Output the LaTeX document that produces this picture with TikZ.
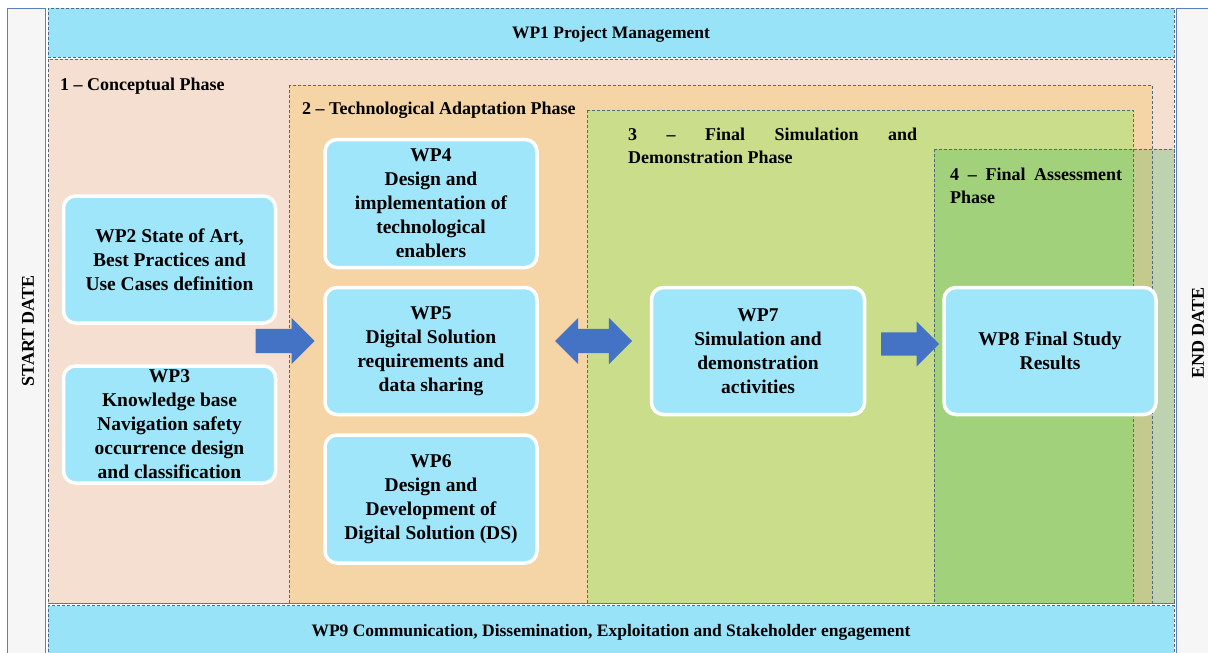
\documentclass[tikz,border=0pt]{standalone}
\usepackage{fontspec}
\setmainfont{Liberation Serif}
\usetikzlibrary{shapes.arrows}
\definecolor{wpcyan}{HTML}{9FE6FB}
\definecolor{bandcyan}{HTML}{99E3F9}
\definecolor{phaseone}{HTML}{F5DFD1}
\definecolor{phasetwo}{HTML}{F5D4A6}
\definecolor{phasethree}{HTML}{C9DD8B}
\definecolor{phasefour}{HTML}{A1D27B}
\definecolor{phasefourmid}{HTML}{C4CA8E}
\definecolor{phasefouredge}{HTML}{BFD2AF}
\definecolor{dashgray}{HTML}{56687A}
\definecolor{sidegray}{HTML}{F6F6F6}
\definecolor{sideblue}{HTML}{5B7FC0}
\definecolor{arrowblue}{HTML}{4472C4}
\begin{document}
\begin{tikzpicture}[x=1pt,y=-1pt,
  phaseline/.style={draw=dashgray,line width=0.8pt,dash pattern=on 3pt off 2pt},
  band/.style={fill=bandcyan,phaseline,minimum width=1126pt,inner sep=0pt,
    text height=12.5pt,text depth=0pt,
    font=\fontsize{17.5}{21}\selectfont\bfseries},
  wpbox/.style={fill=wpcyan,draw=white,line width=3.5pt,rounded corners=12pt,
    minimum width=212pt,align=center,inner sep=0pt,
    font=\fontsize{19.5}{24}\selectfont\bfseries},
  phaselabel/.style={anchor=base west,inner sep=0pt,align=left,
    font=\fontsize{18}{22.5}\selectfont\bfseries},
  sidelabel/.style={rotate=90,inner sep=0pt,font=\fontsize{18}{20}\selectfont\bfseries},
  blockarrow/.style={single arrow,fill=arrowblue,draw=none,inner xsep=0pt,inner ysep=12pt,
    single arrow head extend=11pt,single arrow tip angle=90,anchor=tip},
  twowayarrow/.style={double arrow,fill=arrowblue,draw=none,inner xsep=0pt,inner ysep=12pt,
    double arrow head extend=11pt,double arrow tip angle=90}
]
\useasboundingbox (0,0) rectangle (1208,653);
\clip (0,0) rectangle (1208,653);

% start / end date columns
\filldraw[fill=sidegray,draw=sideblue,line width=1pt] (7,8) rectangle (45,680);
\filldraw[fill=sidegray,draw=sideblue,line width=1pt] (1176,8) rectangle (1230,680);
\node[sidelabel] (start) at (28,331) {START DATE};
\node[sidelabel] (end) at (1198,333) {END DATE};

% phase areas
\fill[phaseone] (48,59) rectangle (1174,603);
\fill[phasetwo] (289,85) rectangle (1152,603);
\fill[phasethree] (587,110) rectangle (1133,603);
\fill[phasefour] (934,149) rectangle (1133,603);
\fill[phasefourmid] (1133,149) rectangle (1152,603);
\fill[phasefouredge] (1152,149) rectangle (1174,603);
\draw[phaseline] (48,59) rectangle (1174,603);
\draw[phaseline] (289,85) rectangle (1152,603);
\draw[phaseline] (587,110) rectangle (1133,603);
\draw[phaseline] (934,149) rectangle (1174,603);

% phase titles (base anchor sits on the last line)
\node[phaselabel] (p1) at (60,90) {1 – Conceptual Phase};
\node[phaselabel] (p2) at (302,114) {2 – Technological Adaptation Phase};
\node[phaselabel] (p3) at (628,163) {\makebox[289pt][s]{3 – Final Simulation and}\\Demonstration Phase};
\node[phaselabel] (p4) at (950,203) {\makebox[172pt][s]{4 – Final Assessment}\\Phase};

% transversal work packages
\node[band,minimum height=49pt] (wp1) at (611,32.5) {WP1 Project Management};
\node[band,minimum height=50pt] (wp9) at (611,630.5) {WP9 Communication, Dissemination, Exploitation and Stakeholder engagement};
\draw[sideblue!60!dashgray,line width=1.3pt] (48,603.5) -- (1174,603.5);

% work package boxes
\node[wpbox,minimum height=127pt] (wp2) at (169.5,259.5) {WP2 State of Art,\\Best Practices and\\Use Cases definition};
\node[wpbox,minimum height=117pt] (wp3) at (169.5,424.5) {WP3\\Knowledge base\\Navigation safety\\occurrence design\\and classification};
\node[wpbox,minimum height=128pt] (wp4) at (431,203.5) {WP4\\Design and\\implementation of\\technological\\enablers};
\node[wpbox,minimum height=127pt] (wp5) at (431,351) {WP5\\Digital Solution\\requirements and\\data sharing};
\node[wpbox,minimum height=128pt] (wp6) at (431,499) {WP6\\Design and\\Development of\\Digital Solution (DS)};
\node[wpbox,minimum height=127pt,minimum width=213pt] (wp7) at (758,351) {WP7\\Simulation and\\demonstration\\activities};
\node[wpbox,minimum height=127pt] (wp8) at (1050,351) {WP8 Final Study\\Results};

% flow arrows between phases
\node[blockarrow,minimum height=59pt] (a12) at (315,341) {};
\node[twowayarrow,minimum height=77pt] (a23) at (593.5,341) {};
\node[blockarrow,minimum height=58pt,inner ysep=11.5pt] (a34) at (939.5,344) {};
\end{tikzpicture}
\end{document}
